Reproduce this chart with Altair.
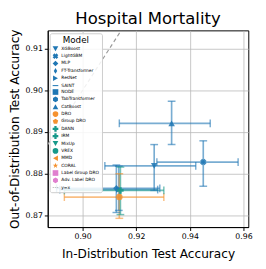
import altair as alt
import pandas as pd

# ---- legend domain (all models) ----
all_models = ["XGBoost", "LightGBM", "MLP", "FT-Transformer", "ResNet", "SAINT", "NODE",
              "TabTransformer", "CatBoost", "DRO", "Group DRO", "DANN", "IRM", "MixUp",
              "VREX", "MMD", "CORAL", "Label Group DRO", "Adv. Label DRO", "y=x"]

BLUE, ORANGE, TEAL, PINK, GRAY = "#1f77b4", "#f5922f", "#17998a", "#e07fcf", "#8a8a8a"
model_colors = [BLUE] * 9 + [ORANGE] * 2 + [TEAL] * 4 + [ORANGE] * 2 + [PINK] * 2 + [GRAY]

X_PATH = "M-0.35,-1L0,-0.6L0.35,-1L1,-0.35L0.6,0L1,0.35L0.35,1L0,0.6L-0.35,1L-1,0.35L-0.6,0L-1,-0.35Z"
HEX = "M0,-1L0.87,-0.5L0.87,0.5L0,1L-0.87,0.5L-0.87,-0.5Z"
PENT = "M0,-1L0.95,-0.31L0.59,0.81L-0.59,0.81L-0.95,-0.31Z"
HLINE = "M-1,-0.18H1V0.18H-1Z"
DASH = "M-1,-0.13H-0.45V0.13H-1Z M-0.2,-0.13H0.2V0.13H-0.2Z M0.45,-0.13H1V0.13H0.45Z"
STAR = "M0,-1L0.24,-0.31L0.95,-0.31L0.38,0.12L0.59,0.81L0,0.38L-0.59,0.81L-0.38,0.12L-0.95,-0.31L-0.24,-0.31Z"
THIN_D = "M0,-1L0.6,0L0,1L-0.6,0Z"
model_shapes = ["triangle-down", X_PATH, "diamond", THIN_D, "triangle-right", HLINE, "square",
                HEX, "triangle-up", "circle", PENT, "cross", "cross", "triangle-down",
                "circle", "triangle-left", STAR, "square", HEX, DASH]

# ---- plotted results ----
models = ["CatBoost", "LightGBM", "XGBoost", "MLP", "ResNet", "DRO", "DANN"]
id_acc = [0.9332, 0.9450, 0.9267, 0.9126, 0.9135, 0.9137, 0.9141]
ood_acc = [0.8921, 0.8828, 0.8819, 0.8765, 0.8762, 0.8744, 0.8760]
id_lo = [0.9137, 0.9277, 0.9083, 0.8903, 0.8915, 0.8932, 0.8932]
id_hi = [0.9476, 0.9580, 0.9422, 0.9288, 0.9280, 0.9303, 0.9303]
ood_lo = [0.8870, 0.8770, 0.8760, 0.8707, 0.8712, 0.8693, 0.8702]
ood_hi = [0.8974, 0.8879, 0.8870, 0.8821, 0.8818, 0.8800, 0.8816]

color_of = dict(zip(all_models, model_colors))
df = pd.DataFrame({"Model": models, "x": id_acc, "y": ood_acc, "xlo": id_lo, "xhi": id_hi,
                   "ylo": ood_lo, "yhi": ood_hi, "bcol": [color_of[m] for m in models]})

x_domain = [0.887, 0.9618]
y_domain = [0.8672, 0.9144]
diag = pd.DataFrame({"x": [0.887, 0.9144], "y": [0.887, 0.9144]})

FONT = "DejaVu Sans"
xs = alt.Scale(domain=x_domain, nice=False, zero=False)
ys = alt.Scale(domain=y_domain, nice=False, zero=False)
X = alt.X("x:Q", scale=xs, title="In-Distribution Test Accuracy",
          axis=alt.Axis(values=[0.90, 0.92, 0.94, 0.96], format=".2f"))
Y = alt.Y("y:Q", scale=ys, title="Out-of-Distribution Test Accuracy",
          axis=alt.Axis(values=[0.87, 0.88, 0.89, 0.90, 0.91], format=".2f"))
bar_color = alt.Color("bcol:N", scale=None)

line = alt.Chart(diag).mark_line(color="#999999", strokeDash=[4, 3], strokeWidth=1.2, clip=True).encode(X, Y)

base = alt.Chart(df)
OP = 0.6
hbar = base.mark_rule(strokeWidth=1.7, opacity=OP, clip=True).encode(
    x=alt.X("xlo:Q", scale=xs), x2="xhi:Q", y=alt.Y("y:Q", scale=ys), color=bar_color)
vbar = base.mark_rule(strokeWidth=1.7, opacity=OP, clip=True).encode(
    x=alt.X("x:Q", scale=xs), y=alt.Y("ylo:Q", scale=ys), y2="yhi:Q", color=bar_color)
cap_l = base.mark_tick(orient="vertical", size=8, thickness=1.5, opacity=OP).encode(
    x=alt.X("xlo:Q", scale=xs), y=alt.Y("y:Q", scale=ys), color=bar_color)
cap_r = base.mark_tick(orient="vertical", size=8, thickness=1.5, opacity=OP).encode(
    x=alt.X("xhi:Q", scale=xs), y=alt.Y("y:Q", scale=ys), color=bar_color)
cap_b = base.mark_tick(orient="horizontal", size=8, thickness=1.5, opacity=OP).encode(
    x=alt.X("x:Q", scale=xs), y=alt.Y("ylo:Q", scale=ys), color=bar_color)
cap_t = base.mark_tick(orient="horizontal", size=8, thickness=1.5, opacity=OP).encode(
    x=alt.X("x:Q", scale=xs), y=alt.Y("yhi:Q", scale=ys), color=bar_color)

leg = alt.Legend(title="Model", orient="none", legendX=2, legendY=3)
pts = base.mark_point(filled=True, size=45, opacity=0.85).encode(
    X, Y,
    color=alt.Color("Model:N", scale=alt.Scale(domain=all_models, range=model_colors), legend=leg),
    shape=alt.Shape("Model:N", scale=alt.Scale(domain=all_models, range=model_shapes), legend=leg),
)

chart = alt.layer(line, hbar, vbar, cap_l, cap_r, cap_b, cap_t, pts).properties(
    width=207, height=203,
    title=alt.Title("Hospital Mortality", fontSize=17, font=FONT, fontWeight="normal", anchor="middle",
                    offset=1),
    autosize=alt.AutoSizeParams(type="none"),
    padding={"left": 41, "top": 19, "right": 10, "bottom": 34},
).configure_view(stroke="black", strokeWidth=1).configure_axis(
    labelFont=FONT, titleFont=FONT, labelFontSize=8, titleFontSize=12.5, titleFontWeight="normal",
    labelColor="black", titleColor="black", domainColor="black", tickColor="black", tickSize=3.5,
    gridColor="#b8b8b8", gridWidth=0.8, labelPadding=2,
).configure_axisX(titlePadding=8).configure_axisY(titlePadding=4).configure_legend(
    titleFont=FONT, labelFont=FONT, titleFontSize=9, titleFontWeight="normal", labelFontSize=4.5,
    symbolSize=34, rowPadding=1.6, fillColor="rgba(255,255,255,0.85)", strokeColor="#cccccc",
    padding=3, cornerRadius=2, symbolOpacity=1, symbolStrokeWidth=0, titlePadding=1, labelOffset=3,
    titleAnchor="middle",
)

chart.save("out.html", embed_options={"renderer": "svg", "actions": False})
